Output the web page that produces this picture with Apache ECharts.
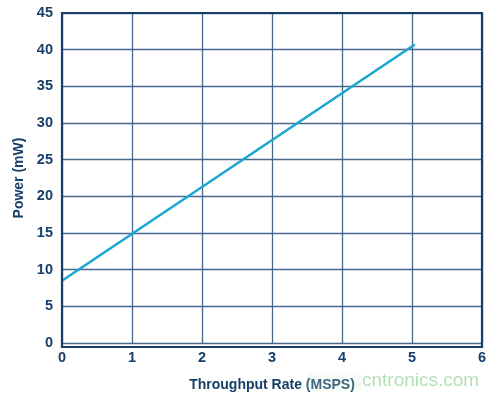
<!DOCTYPE html>
<html>
<head>
<meta charset="utf-8">
<script src="https://cdn.jsdelivr.net/npm/echarts@6/dist/echarts.min.js"></script>
<style>
  html, body { margin: 0; padding: 0; background: #fff; }
  #chart { width: 498px; height: 397px; }
</style>
</head>
<body>
<div id="chart"></div>
<script>
// throughput rate (MSPS) vs power (mW)
const rateMsps = [0, 5.04];
const powerMw = [8.5, 40.7];
const xTicks = [0, 1, 2, 3, 4, 5, 6];
const yTicks = [0, 5, 10, 15, 20, 25, 30, 35, 40, 45];

const navy = "#173f68";
const gridColor = "#47698d";
const labelFont = { color: navy, fontFamily: "Liberation Sans, Arial", fontWeight: "bold", fontSize: 14.5 };
const nameFont = { color: navy, fontFamily: "Liberation Sans, Arial", fontWeight: "bold", fontSize: 14 };

const chart = echarts.init(document.getElementById("chart"));
chart.setOption({
  animation: false,
  grid: { left: 62, right: 16, top: 13, bottom: 50, containLabel: false },
  xAxis: {
    type: "value",
    min: xTicks[0],
    max: xTicks[xTicks.length - 1],
    interval: 1,
    name: "Throughput Rate (MSPS)",
    nameLocation: "middle",
    nameGap: 35,
    nameTextStyle: nameFont,
    axisLine: { show: false },
    axisTick: { show: false },
    axisLabel: { ...labelFont, margin: 7 },
    splitLine: { show: true, lineStyle: { color: gridColor, width: 1.3 } },
  },
  yAxis: {
    type: "value",
    min: yTicks[0],
    max: yTicks[yTicks.length - 1],
    interval: 5,
    name: "Power (mW)",
    nameLocation: "middle",
    nameGap: 31,
    nameTextStyle: nameFont,
    axisLine: { show: false },
    axisTick: { show: false },
    axisLabel: { ...labelFont, margin: 9 },
    splitLine: { show: true, lineStyle: { color: gridColor, width: 1.3 } },
  },
  graphic: [
    // plot frame
    {
      type: "rect",
      shape: { x: 62, y: 13, width: 420, height: 334 },
      style: { fill: null, stroke: navy, lineWidth: 2.2 },
      silent: true,
      z: 10,
    },
    // watermark
    {
      type: "rect",
      shape: { x: 306, y: 373, width: 56, height: 18, r: 4 },
      style: { fill: "rgba(210,235,215,0.22)" },
      z: 20,
    },
    {
      type: "text",
      left: 362,
      top: 371,
      style: {
        text: "cntronics.com",
        fill: "rgba(150,210,150,0.7)",
        font: "19px Liberation Sans, Arial",
      },
      z: 20,
    },
  ],
  series: [
    {
      type: "line",
      data: rateMsps.map((x, i) => [x, powerMw[i]]),
      showSymbol: false,
      lineStyle: { color: "#17a7d1", width: 2.5 },
      z: 5,
    },
  ],
});
</script>
</body>
</html>
